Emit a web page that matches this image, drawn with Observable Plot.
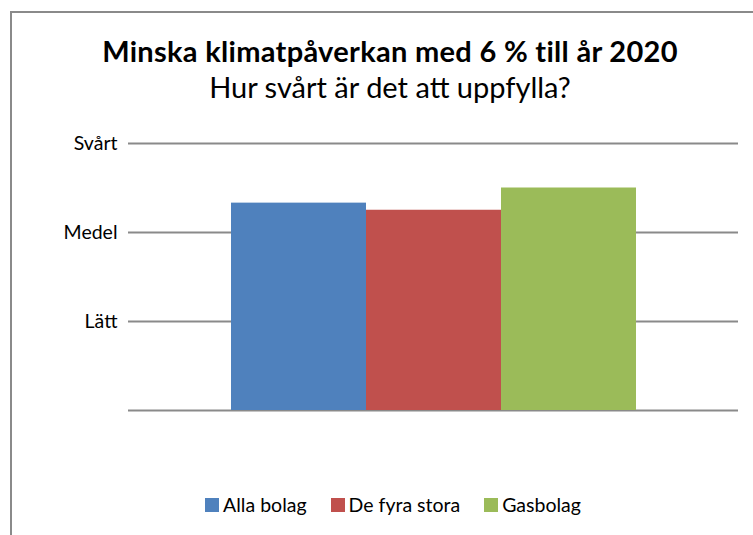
<!DOCTYPE html>
<html>
<head>
<meta charset="utf-8">
<script src="https://cdn.jsdelivr.net/npm/d3@7"></script>
<script src="https://cdn.jsdelivr.net/npm/@observablehq/plot@0.6"></script>
<style>
  html, body { margin: 0; padding: 0; background: #fff; overflow: hidden; width: 753px; height: 535px; }
  body { position: relative; font-family: Lato, "Open Sans", sans-serif; }
  #frame { position: absolute; left: 10px; top: 11px; width: 800px; height: 600px; border: 2px solid #8a8a8a; box-sizing: border-box; }
  #title { position: absolute; left: 0; width: 780px; top: 36px; line-height: 1; text-align: center; font-weight: bold; font-size: 29px; letter-spacing: 0.3px; color: #000; }
  #subtitle { position: absolute; left: 0; width: 780px; top: 72px; line-height: 1; text-align: center; font-size: 29px; color: #000; }
  #chart { position: absolute; left: 0; top: 0; }
  #legend { position: absolute; left: 0; width: 786px; top: 495px; line-height: 1; display: flex; justify-content: center; font-size: 19.5px; color: #000; }
  #legend span.item { display: inline-flex; align-items: center; margin: 0 12px; }
  #legend span.sw { display: inline-block; width: 14px; height: 14px; margin-right: 4px; }
</style>
</head>
<body>
<div id="frame"></div>
<div id="title">Minska klimatpåverkan med 6 % till år 2020</div>
<div id="subtitle">Hur svårt är det att uppfylla?</div>
<div id="chart"></div>
<div id="legend"></div>
<script>
const series = ["Alla bolag", "De fyra stora", "Gasbolag"];
const values = [2.33, 2.25, 2.5];
const colors = ["#4f81bd", "#c0504d", "#9bbb59"];
const tickValues = [0, 1, 2, 3];
const tickLabels = ["", "Lätt", "Medel", "Svårt"];

const data = series.map((s, i) => ({series: s, value: values[i]}));

const plot = Plot.plot({
  width: 753,
  height: 430,
  marginLeft: 128,
  marginRight: 15,
  marginTop: 143,
  marginBottom: 20,
  style: {fontFamily: "Lato, 'Open Sans', sans-serif", fontSize: "19.5px", color: "#000", background: "transparent"},
  x: {domain: series, paddingInner: 0, paddingOuter: 0.75, axis: null},
  y: {domain: [0, 3], axis: null},
  color: {domain: series, range: colors},
  marks: [
    Plot.ruleY(tickValues, {stroke: "#8a8a8a", strokeWidth: 2, strokeOpacity: 1}),
    Plot.barY(data, {x: "series", y: "value", fill: "series"}),
    Plot.axisY({ticks: tickValues, tickFormat: d => tickLabels[d], tickSize: 0, tickPadding: 11, fontSize: 19.5, label: null})
  ]
});
document.getElementById("chart").appendChild(plot);

const legend = document.getElementById("legend");
series.forEach((s, i) => {
  const item = document.createElement("span");
  item.className = "item";
  const sw = document.createElement("span");
  sw.className = "sw";
  sw.style.background = colors[i];
  item.appendChild(sw);
  item.appendChild(document.createTextNode(s));
  legend.appendChild(item);
});
</script>
</body>
</html>
